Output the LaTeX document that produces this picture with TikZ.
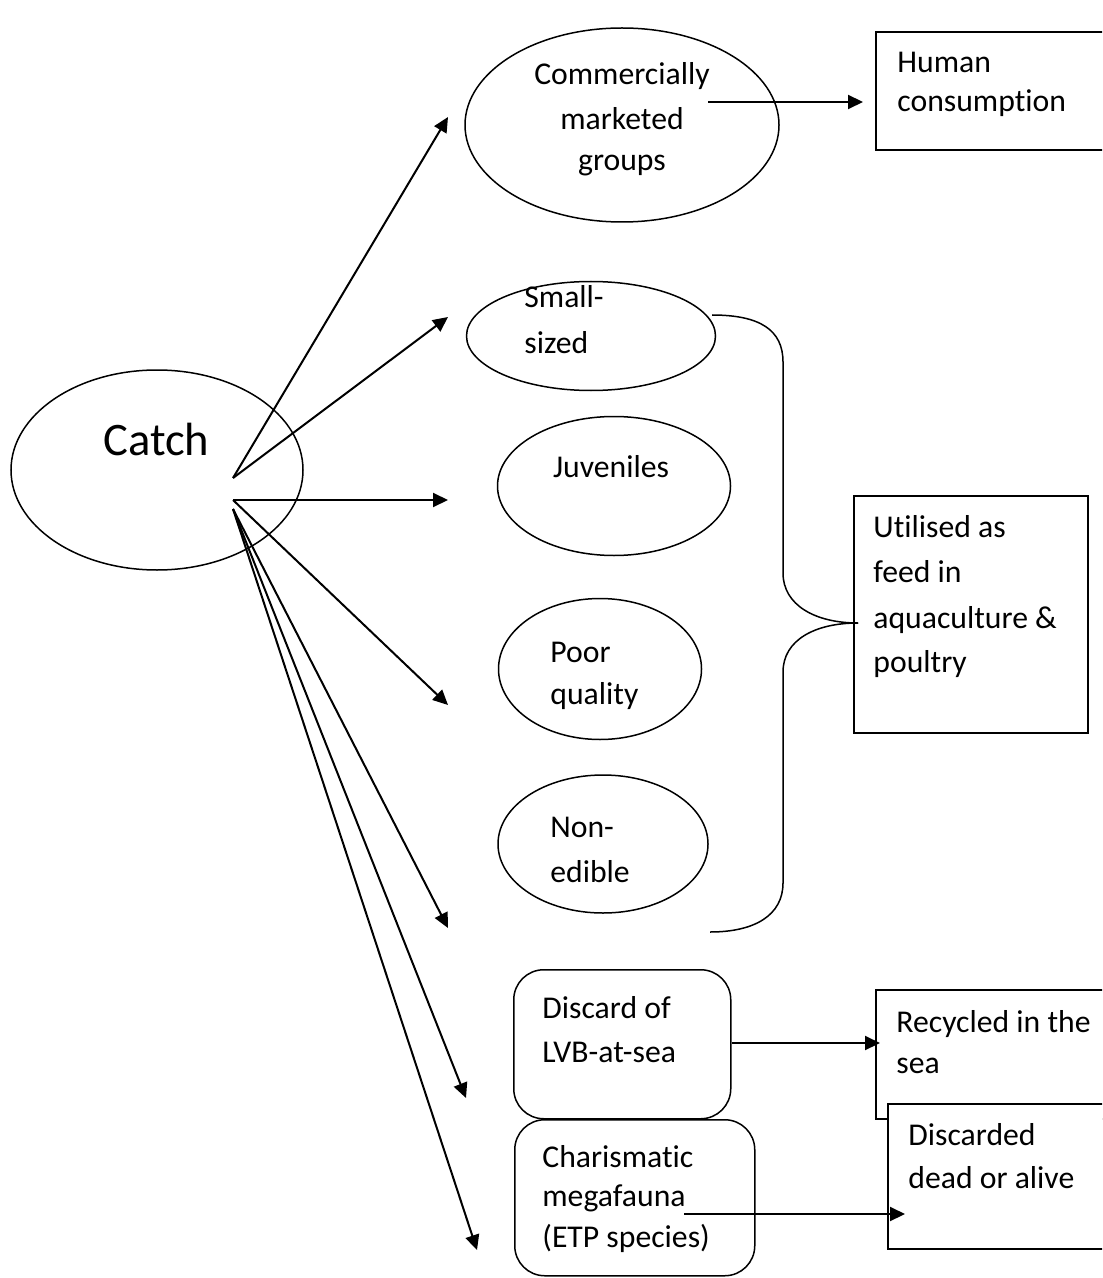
\documentclass[tikz,border=0pt]{standalone}
\usepackage{fontspec}
\setmainfont{Carlito}[Ligatures=NoCommon]
\usetikzlibrary{arrows.meta,shapes.geometric}
\tikzset{
  oval/.style={draw=black, line width=0.75pt, ellipse, inner sep=0pt},
  boxnode/.style={draw=black, line width=1pt, rectangle, inner sep=0pt, anchor=north west},
  rbox/.style={draw=black, line width=0.75pt, rectangle, rounded corners=15pt, inner sep=0pt, anchor=north west},
  lbl/.style={inner sep=0pt, anchor=base west, font=\fontsize{15.85}{19}\selectfont},
  clbl/.style={lbl, anchor=base},
  bigl/.style={inner sep=0pt, anchor=base west, font=\fontsize{23.3}{28}\selectfont},
  arr/.style={line width=1pt, -{Triangle[length=7.5pt,width=7pt]}},
  bracel/.style={line width=0.75pt}
}
\begin{document}
\begin{tikzpicture}[x=0.5pt,y=-0.5pt]
\useasboundingbox (0,0) rectangle (1102,1278);
\clip (0,0) rectangle (1102,1278);
% shapes (sizes in pt = pixels/2)
\node[oval, minimum width=146pt, minimum height=100pt] (catch) at (157,470) {};
\node[oval, minimum width=157pt, minimum height=97pt] (comm) at (622,125) {};
\node[oval, minimum width=124.5pt, minimum height=54.5pt] (small) at (591,336) {};
\node[oval, minimum width=116.5pt, minimum height=69.5pt] (juv) at (614,486) {};
\node[oval, minimum width=101.5pt, minimum height=70.5pt] (poor) at (600,669) {};
\node[oval, minimum width=105pt, minimum height=69pt] (nonedible) at (603,844) {};
\node[boxnode, minimum width=130pt, minimum height=59pt] (human) at (875,31) {};
\node[boxnode, minimum width=117pt, minimum height=118.5pt] (util) at (853,495) {};
\node[rbox, minimum width=108.5pt, minimum height=74.5pt] (discard) at (513,969) {};
\node[rbox, minimum width=120pt, minimum height=78pt] (charis) at (514,1119) {};
\node[boxnode, minimum width=130pt, minimum height=64.5pt] (recyc) at (875,989) {};
\node[boxnode, fill=white, minimum width=125pt, minimum height=72.5pt] (discd) at (887,1103) {};
% texts
\node[bigl] (tcatch) at (103,455) {Catch};
\node[clbl] (tc1) at (622,85) {Commercially};
\node[clbl] (tc2) at (622,130) {marketed};
\node[clbl] (tc3) at (622,171) {groups};
\node[lbl] (th1) at (897,73) {Human};
\node[lbl] (th2) at (897,112) {consumption};
\node[lbl] (ts1) at (524,308) {Small-};
\node[lbl] (ts2) at (524,353) {sized};
\node[clbl] (tj) at (611,477) {Juveniles};
\node[lbl] (tp1) at (550,662) {Poor};
\node[lbl] (tp2) at (550,704) {quality};
\node[lbl] (tn1) at (550,837) {Non-};
\node[lbl] (tn2) at (550,882) {edible};
\node[lbl] (tu1) at (873,537) {Utilised as};
\node[lbl] (tu2) at (873,582) {feed in};
\node[lbl] (tu3) at (873,628) {aquaculture \&};
\node[lbl] (tu4) at (873,672) {poultry};
\node[lbl] (td1) at (542,1018) {Discard of};
\node[lbl] (td2) at (542,1062) {LVB-at-sea};
\node[lbl] (tch1) at (542,1167) {Charismatic};
\node[lbl] (tch2) at (542,1206) {megafauna};
\node[lbl] (tch3) at (542,1247) {(ETP species)};
\node[lbl] (tr1) at (896,1032) {Recycled in the};
\node[lbl] (tr2) at (896,1073) {sea};
\node[lbl] (tdd1) at (908,1145) {Discarded};
\node[lbl] (tdd2) at (908,1188) {dead or alive};
% connector coordinates
\coordinate (o1) at (233,478);
\coordinate (o2) at (233,500);
\coordinate (o3) at (233,509);
\coordinate (e1) at (448,117);
\coordinate (e2) at (448,317);
\coordinate (e3) at (448,500);
\coordinate (e4) at (448,705);
\coordinate (e5) at (448,928);
\coordinate (e6) at (466,1098);
\coordinate (e7) at (477,1250);
\coordinate (hs) at (708,102);
\coordinate (he) at (863,102);
\coordinate (ds) at (732,1043);
\coordinate (de) at (880,1043);
\coordinate (ms) at (684,1214);
\coordinate (me) at (905,1214);
\coordinate (bs) at (712,315);
\coordinate (bt) at (858,623);
\coordinate (be) at (710,932);
% arrows
\draw[arr] (o1) -- (e1);
\draw[arr] (o1) -- (e2);
\draw[arr] (o2) -- (e3);
\draw[arr] (o2) -- (e4);
\draw[arr] (o3) -- (e5);
\draw[arr] (o3) -- (e6);
\draw[arr] (o3) -- (e7);
\draw[arr] (hs) -- (he);
\draw[arr] (ds) -- (de);
\draw[arr] (ms) -- (me);
% brace
\draw[bracel] (bs) .. controls (760,315) and (783,330) .. (783,362)
  -- (783,573) .. controls (783,605) and (815,623) .. (bt);
\draw[bracel] (bt) .. controls (815,623) and (783,640) .. (783,672)
  -- (783,883) .. controls (783,915) and (755,932) .. (be);
\end{tikzpicture}
\end{document}
